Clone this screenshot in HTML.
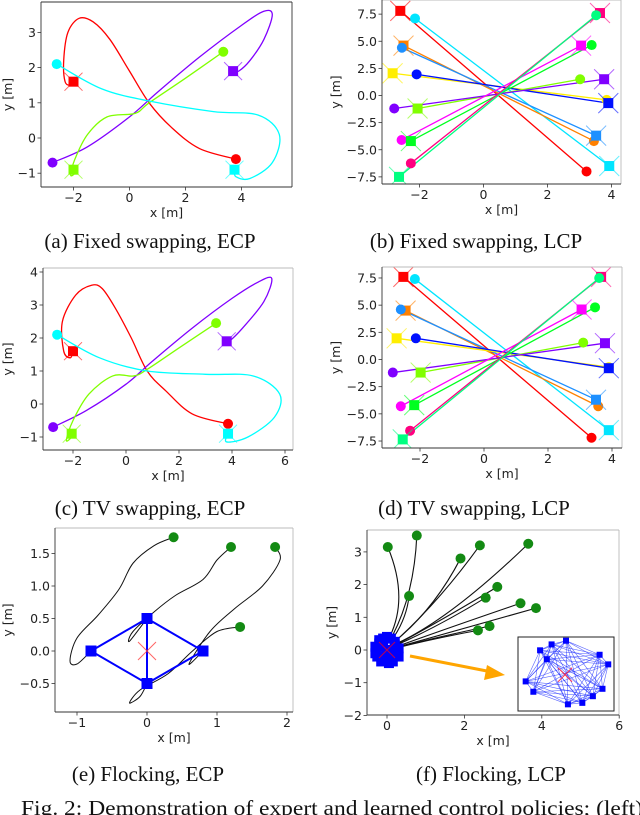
<!DOCTYPE html>
<html><head><meta charset="utf-8">
<style>
html,body{margin:0;padding:0;background:#fff;}
svg{display:block;}
.tk{font-family:"DejaVu Sans","Liberation Sans",sans-serif;font-size:12.5px;fill:#222;}
.cap{font-family:"Liberation Serif",serif;font-size:21px;fill:#111;}
</style></head>
<body>
<svg id="fig" width="640" height="815" viewBox="0 0 640 815" xmlns="http://www.w3.org/2000/svg">
<text class="cap" x="150" y="248" text-anchor="middle">(a) Fixed swapping, ECP</text>
<text class="cap" x="476" y="248" text-anchor="middle">(b) Fixed swapping, LCP</text>
<text class="cap" x="150" y="515" text-anchor="middle">(c) TV swapping, ECP</text>
<text class="cap" x="474" y="515" text-anchor="middle">(d) TV swapping, LCP</text>
<text class="cap" x="148" y="781" text-anchor="middle">(e) Flocking, ECP</text>
<text class="cap" x="491" y="781" text-anchor="middle">(f) Flocking, LCP</text>
<text class="cap" x="21" y="815" textLength="622" lengthAdjust="spacingAndGlyphs">Fig. 2: Demonstration of expert and learned control policies; (left)</text>
</svg>
<script>
// ---------- data ----------
const ecpColors = ["#ff0000","#8000ff","#80ff00","#00ffff"];
const aRed = [[3.8,-0.6],[2.5,-0.3],[1.5,0.3],[0.7,1.0],[0,1.9],[-0.7,2.8],[-1.3,3.3],[-1.8,3.4],[-2.2,3.0],[-2.35,2.2],[-2.3,1.6],[-2.1,1.5],[-2,1.6]];
const aPurple = [[-2.75,-0.7],[-1.5,-0.25],[0,0.6],[1,1.3],[2.5,2.3],[4,3.2],[4.8,3.6],[5.1,3.5],[4.8,2.8],[4.3,2.2],[3.9,1.9],[3.7,1.9]];
const aGreen = [[3.35,2.45],[2,1.7],[0.7,1.0],[0.2,0.7],[-0.8,0.6],[-1.5,0.1],[-1.95,-0.6],[-2.1,-1.05],[-1.95,-1.0],[-2,-0.9]];
const aCyan = [[-2.6,2.1],[-1,1.4],[0.7,1.05],[3,0.75],[4.6,0.65],[5.35,0.1],[5.1,-0.7],[4.3,-1.15],[3.8,-1.1],[3.75,-0.9]];
const cRed = [[3.85,-0.6],[2.5,-0.3],[1.5,0.4],[0.8,1.0],[0.2,2.0],[-0.4,2.9],[-0.9,3.5],[-1.3,3.6],[-1.9,3.3],[-2.4,2.5],[-2.35,1.6],[-2.1,1.4],[-2,1.6]];
const cPurple = [[-2.75,-0.7],[-1.5,-0.2],[0,0.6],[1,1.3],[2.5,2.3],[4,3.2],[5,3.7],[5.5,3.8],[5.2,3.1],[4.4,2.3],[3.9,1.9],[3.8,1.9]];
const cGreen = [[3.4,2.45],[2,1.7],[0.8,1.05],[0.3,0.85],[-0.5,0.85],[-1.4,0.3],[-2.0,-0.5],[-2.25,-1.1],[-2.05,-1.0],[-2.05,-0.9]];
const cCyan = [[-2.6,2.1],[-1,1.4],[0.8,1.0],[3,0.9],[4.8,0.85],[5.8,0.3],[5.6,-0.4],[4.6,-1.0],[3.8,-1.15],[3.85,-0.9]];

const lcpColors = ["#ff0000","#00e5ff","#ff8000","#1e90ff","#ffee00","#0010ff","#80ff00","#8000ff","#ff00ff","#00ff20","#ff0080","#00ff80"];
const bStartX = [3.22,-2.14,3.45,-2.55,3.85,-2.09,3.02,-2.79,-2.56,3.38,-2.27,3.52];
const bStartY = [-7.0,7.1,-4.2,4.4,-0.4,1.95,1.5,-1.2,-4.1,4.65,-6.25,7.4];
const bEndX = [-2.6,3.93,-2.5,3.52,-2.84,3.9,-2.06,3.77,3.05,-2.27,3.64,-2.64];
const bEndY = [7.8,-6.5,4.6,-3.7,2.05,-0.7,-1.2,1.5,4.6,-4.2,7.6,-7.5];
const dStartX = [3.36,-2.16,3.57,-2.6,3.9,-2.13,3.1,-2.85,-2.6,3.47,-2.31,3.6];
const dStartY = [-7.2,7.4,-4.3,4.6,-0.7,1.95,1.55,-1.2,-4.3,4.8,-6.55,7.5];
const dEndX = [-2.52,3.9,-2.45,3.5,-2.73,3.9,-1.98,3.78,3.05,-2.18,3.66,-2.54];
const dEndY = [7.6,-6.5,4.5,-3.7,1.95,-0.8,-1.2,1.5,4.6,-4.2,7.6,-7.35];

const eAgentsX = [-0.8,0,0.8,0];
const eAgentsY = [0,0.5,0,-0.5];
const eStartX = [0.38,1.2,1.83,1.33];
const eStartY = [1.75,1.6,1.6,0.37];
const eTraj = [
 [[0.38,1.75],[0.1,1.62],[-0.2,1.35],[-0.4,0.95],[-0.7,0.55],[-1.0,0.2],[-1.1,-0.15],[-1.0,-0.2],[-0.8,0]],
 [[1.2,1.6],[1.0,1.4],[0.8,1.1],[0.4,0.85],[0.1,0.6],[-0.2,0.3],[-0.25,0.15],[0,0.5]],
 [[1.83,1.6],[1.9,1.4],[1.65,1.0],[1.25,0.65],[0.9,0.3],[0.6,-0.2],[0.8,0]],
 [[1.33,0.37],[1.0,0.3],[0.65,0.0],[0.3,-0.35],[-0.1,-0.6],[-0.25,-0.8],[-0.1,-0.7],[0,-0.5]]
];

const fStartX = [0.02,0.77,1.9,2.4,3.65,2.85,2.55,3.45,3.85,0.57,2.65,2.35];
const fStartY = [3.15,3.5,2.8,3.2,3.25,1.93,1.6,1.43,1.28,1.65,0.73,0.6];
const fCtrlX = [0.6,0.7,1.2,1.3,1.6,1.4,1.3,1.4,1.5,0.5,1.3,1.2];
const fCtrlY = [1.5,1.6,1.2,1.4,0.9,0.9,0.7,0.6,0.5,0.9,0.4,0.35];
const fBlobX = [-0.3,-0.2,-0.1,0,0.1,0.2,0.3,-0.25,-0.15,0.05,0.15,0.25,-0.3,0.3,-0.1,0.1,0,-0.2,0.2,0];
const fBlobY = [0.1,0.3,0.35,0.4,0.35,0.25,0.05,-0.2,-0.35,-0.4,-0.35,-0.15,-0.1,-0.2,0.1,-0.1,0,0.2,0.15,-0.25];
const insetNodeX = [0.23,0.35,0.50,0.85,0.94,0.78,0.67,0.52,0.16,0.08,0.30,0.88];
const insetNodeY = [0.18,0.10,0.05,0.24,0.37,0.80,0.89,0.91,0.74,0.60,0.30,0.70];

const xTicksA = [-2,0,2,4], yTicksA = [-1,0,1,2,3];
const xTicksB = [-2,0,2,4], yTicksB = [-7.5,-5,-2.5,0,2.5,5,7.5];
const yTickLabelsB = ["\u22127.5","\u22125.0","\u22122.5","0.0","2.5","5.0","7.5"];
const xTicksC = [-2,0,2,4,6], yTicksC = [-1,0,1,2,3,4];
const xTicksE = [-1,0,1,2], yTicksE = [-0.5,0,0.5,1,1.5];
const yTickLabelsE = ["\u22120.5","0.0","0.5","1.0","1.5"];
const xTicksF = [0,2,4,6], yTicksF = [-2,-1,0,1,2,3];

// ---------- drawing ----------
const NS = "http://www.w3.org/2000/svg";
const svg = document.getElementById("fig");
function mk(tag, attrs, parent){
  const e = document.createElementNS(NS, tag);
  for (const k in attrs) e.setAttribute(k, attrs[k]);
  (parent||svg).appendChild(e);
  return e;
}
function lab(v){ return (v<0?"\u2212":"") + Math.abs(v); }
function sx(p,v){ return p.x0 + v*p.kx; }
function sy(p,v){ return p.y0 - v*p.ky; }
function smooth(p, pts){
  const P = pts.map(q=>[sx(p,q[0]), sy(p,q[1])]);
  let d = "M"+P[0][0]+","+P[0][1];
  for (let i=0;i<P.length-1;i++){
    const p0=P[Math.max(0,i-1)], p1=P[i], p2=P[i+1], p3=P[Math.min(P.length-1,i+2)];
    const c1=[p1[0]+(p2[0]-p0[0])/6, p1[1]+(p2[1]-p0[1])/6];
    const c2=[p2[0]-(p3[0]-p1[0])/6, p2[1]-(p3[1]-p1[1])/6];
    d += " C"+c1[0]+","+c1[1]+" "+c2[0]+","+c2[1]+" "+p2[0]+","+p2[1];
  }
  return d;
}
let clipN = 0;
function axes(p, name, xt, yt, ytl, light){
  const g = mk("g", {});
  
  
  const [l,t,r,b] = p.frame;
  const id = "clip"+(clipN++);
  const cp = mk("clipPath", {id:id}, g);
  mk("rect", {x:l, y:t, width:r-l, height:b-t}, cp);
  const plot = mk("g", {"clip-path":"url(#"+id+")"}, g);
  
  
  xt.forEach(v=>{
    const x = sx(p,v);
    mk("line", {x1:x, x2:x, y1:b, y2:b+3.5, stroke:"#333", "stroke-width":0.8}, g);
    const tx = mk("text", {x:x, y:b+15, "text-anchor":"middle", class:"tk"}, g);
    
    
    tx.textContent = lab(v);
  });
  yt.forEach((v,i)=>{
    const y = sy(p,v);
    mk("line", {x1:l-3.5, x2:l, y1:y, y2:y, stroke:"#333", "stroke-width":0.8}, g);
    const tx = mk("text", {x:l-5, y:y+4.5, "text-anchor":"end", class:"tk"}, g);
    
    
    tx.textContent = ytl ? ytl[i] : lab(v);
  });
  const xl = mk("text", {x:(l+r)/2, y:b+30, "text-anchor":"middle", class:"tk"}, g);
  
  
  xl.textContent = "x [m]";
  const yl = mk("text", {x:0, y:0, "text-anchor":"middle", class:"tk", transform:"translate("+(p.ylx)+","+((t+b)/2)+") rotate(-90)"}, g);
  
  
  yl.textContent = "y [m]";
  g._plot = plot;
  g._frame = [l,t,r,b,light];
  return g;
}
function frameBox(g){
  const [l,t,r,b,light] = g._frame;
  const c2 = light ? "#bbb" : "#333";
  mk("line", {x1:l,x2:r,y1:t,y2:t,stroke:c2,"stroke-width":0.9}, g);
  mk("line", {x1:r,x2:r,y1:t,y2:b,stroke:c2,"stroke-width":0.9}, g);
  mk("line", {x1:l,x2:l,y1:t,y2:b,stroke:"#333","stroke-width":0.9}, g);
  mk("line", {x1:l,x2:r,y1:b,y2:b,stroke:"#333","stroke-width":0.9}, g);
}
function xmark(par, x, y, s, col, w, op){
  mk("path", {d:"M"+(x-s)+","+(y-s)+"L"+(x+s)+","+(y+s)+"M"+(x-s)+","+(y+s)+"L"+(x+s)+","+(y-s), stroke:col, "stroke-width":w, opacity:op, fill:"none"}, par);
}
function sq(par, x, y, s, col){
  return mk("rect", {x:x-s/2, y:y-s/2, width:s, height:s, fill:col}, par);
}

function ecp(p, name, xt, yt, trajs, light){
  const g = axes(p, name, xt, yt, null, light);
  trajs.forEach((tr,i)=>{
    const col = ecpColors[i];
    const path = mk("path", {d:smooth(p,tr), fill:"none", stroke:col, "stroke-width":1.3}, g._plot);
    
    
    const s = tr[0], e = tr[tr.length-1];
    const c = mk("circle", {cx:sx(p,s[0]), cy:sy(p,s[1]), r:5, fill:col}, g._plot);
    
    
    xmark(g._plot, sx(p,e[0]), sy(p,e[1]), 9, col, 1, 0.6);
    const q = sq(g._plot, sx(p,e[0]), sy(p,e[1]), 10, col);
    
    
  });
  frameBox(g);
}
const pa = {frame:[41,2,292,187], x0:129.5, kx:28, y0:138, ky:35.2, ylx:12};
ecp(pa, "plot-a", xTicksA, yTicksA, [aRed,aPurple,aGreen,aCyan], false);
const pc = {frame:[43,268,293,450], x0:126, kx:26.5, y0:404, ky:33, ylx:12};
ecp(pc, "plot-c", xTicksC, yTicksC, [cRed,cPurple,cGreen,cCyan], true);

function lcp(p, name, SX, SY, EX, EY){
  const g = axes(p, name, xTicksB, yTicksB, yTickLabelsB, true);
  for (let i=0;i<SX.length;i++){
    const col = lcpColors[i];
    const ln = mk("line", {x1:sx(p,SX[i]), y1:sy(p,SY[i]), x2:sx(p,EX[i]), y2:sy(p,EY[i]), stroke:col, "stroke-width":1.3}, g._plot);
    
    
  }
  for (let i=0;i<SX.length;i++){
    const col = lcpColors[i];
    xmark(g._plot, sx(p,EX[i]), sy(p,EY[i]), 10, col, 1, 0.6);
    const q = sq(g._plot, sx(p,EX[i]), sy(p,EY[i]), 10, col);
    
    
    const c = mk("circle", {cx:sx(p,SX[i]), cy:sy(p,SY[i]), r:5, fill:col}, g._plot);
    
    
  }
  frameBox(g);
}
const pb = {frame:[382,0,621,184], x0:483.5, kx:32, y0:95.5, ky:10.85, ylx:340};
lcp(pb, "plot-b", bStartX, bStartY, bEndX, bEndY);
const pd = {frame:[382,267,622,448], x0:484, kx:32, y0:359.5, ky:10.87, ylx:340};
lcp(pd, "plot-d", dStartX, dStartY, dEndX, dEndY);

(function(){
  const p = {frame:[55,528,293,712], x0:147, kx:70, y0:651, ky:65, ylx:12};
  const g = axes(p, "plot-e", xTicksE, yTicksE, yTickLabelsE, true);
  eTraj.forEach((tr,i)=>{
    const path = mk("path", {d:smooth(p,tr), fill:"none", stroke:"#111", "stroke-width":1}, g._plot);
    
    
  });
  const n = eAgentsX.length;
  const edges = [[0,1],[1,2],[2,3],[3,0],[1,3]];
  edges.forEach(e=>{
    const ln = mk("line", {x1:sx(p,eAgentsX[e[0]]), y1:sy(p,eAgentsY[e[0]]), x2:sx(p,eAgentsX[e[1]]), y2:sy(p,eAgentsY[e[1]]), stroke:"#0000ff", "stroke-width":2}, g._plot);
    
    
  });
  xmark(g._plot, sx(p,0), sy(p,0), 9, "#ff4040", 1, 0.8);
  for (let i=0;i<n;i++){
    const q = sq(g._plot, sx(p,eAgentsX[i]), sy(p,eAgentsY[i]), 11, "#0000ff");
    
    
  }
  for (let i=0;i<eStartX.length;i++){
    const c = mk("circle", {cx:sx(p,eStartX[i]), cy:sy(p,eStartY[i]), r:5, fill:"#138a13"}, g._plot);
    
    
  }
  frameBox(g);
})();

(function(){
  const p = {frame:[367,530,619,715], x0:387, kx:38.7, y0:650, ky:32.7, ylx:336};
  const g = axes(p, "plot-f", xTicksF, yTicksF, null, true);
  for (let i=0;i<fStartX.length;i++){
    const ang = Math.atan2(fStartY[i], fStartX[i]);
    const ex = 0.25*Math.cos(ang), ey = 0.25*Math.sin(ang);
    const d = "M"+sx(p,fStartX[i])+","+sy(p,fStartY[i])+" Q"+sx(p,fCtrlX[i])+","+sy(p,fCtrlY[i])+" "+sx(p,ex)+","+sy(p,ey);
    const path = mk("path", {d:d, fill:"none", stroke:"#111", "stroke-width":1.1}, g._plot);
    
    
  }
  for (let i=0;i<fBlobX.length;i++){
    const q = sq(g._plot, sx(p,fBlobX[i]), sy(p,fBlobY[i]), 10, "#0000ff");
    
    
  }
  xmark(g._plot, sx(p,0), sy(p,0), 8, "#d00040", 1, 0.9);
  for (let i=0;i<fStartX.length;i++){
    const c = mk("circle", {cx:sx(p,fStartX[i]), cy:sy(p,fStartY[i]), r:5, fill:"#138a13"}, g._plot);
    
    
  }
  const ar = mk("g", {}, g);
  
  
  mk("line", {x1:410, y1:656, x2:492, y2:672, stroke:"#ffa500", "stroke-width":3}, ar);
  mk("polygon", {points:"505,675 487,665 484,680", fill:"#ffa500"}, ar);
  const ins = mk("g", {}, g);
  
  
  const L=518,T=637,W=96,H=74;
  mk("rect", {x:L, y:T, width:W, height:H, fill:"#fff", stroke:"#222", "stroke-width":1}, ins);
  const nx = insetNodeX.map(v=>L+v*W), ny = insetNodeY.map(v=>T+v*H);
  for (let i=0;i<nx.length;i++) for (let j=i+1;j<nx.length;j++){
    mk("line", {x1:nx[i], y1:ny[i], x2:nx[j], y2:ny[j], stroke:"#2030ff", "stroke-width":0.6, opacity:0.75}, ins);
  }
  xmark(ins, L+0.49*W, T+0.51*H, 7, "#ff2040", 1, 0.9);
  for (let i=0;i<nx.length;i++){
    const q = sq(ins, nx[i], ny[i], 6, "#0000ff");
    
    
  }
  frameBox(g);
})();
</script>
</body></html>
